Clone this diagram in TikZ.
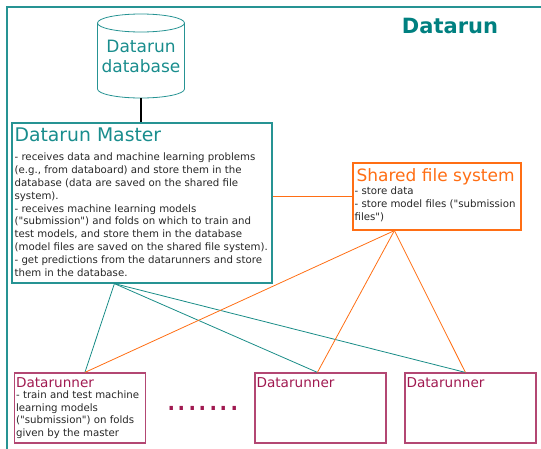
\documentclass[tikz,border=0pt]{standalone}
\usepackage{fontspec}
\setmainfont{DejaVu Sans}[Ligatures=TeXOff]
\definecolor{runteal}{RGB}{0, 128, 128}
\definecolor{linkteal}{RGB}{25, 140, 135}
\definecolor{fsorange}{RGB}{255, 110, 20}
\definecolor{runmaroon}{RGB}{160, 25, 80}
\usetikzlibrary{positioning, shapes.geometric}
\tikzset{
	groupframe/.style={draw=runteal!85, line width=2pt},
	grouptitle/.style={anchor=base, inner sep=0pt, text=runteal, font=\bfseries\fontsize{21}{24}\selectfont},
	dbnode/.style={cylinder, shape border rotate=90, aspect=2.7, draw=runteal!85, line width=0.8pt, minimum width=87pt, minimum height=84pt},
	dblabel/.style={align=center, inner sep=0pt, text=runteal!90, font=\fontsize{17}{20}\selectfont},
	masterbox/.style={rectangle, draw=runteal!85, line width=1.2pt, minimum width=260pt, minimum height=160pt},
	fsbox/.style={rectangle, draw=fsorange, line width=1.2pt, minimum width=168pt, minimum height=67pt},
	runbox/.style={rectangle, draw=runmaroon!80, line width=1.2pt, minimum width=131pt, minimum height=70pt},
	boxtitle/.style={anchor=base west, inner sep=0pt},
	boxtext/.style={anchor=north west, inner sep=0pt, align=left, text=black!85, font=\fontsize{10.2}{12.8}\selectfont},
	tealline/.style={draw=linkteal, line width=0.8pt},
	orangeline/.style={draw=fsorange, line width=0.8pt},
}

\begin{document}
\begin{tikzpicture}[x=1pt, y=-1pt]
	\useasboundingbox (0,0) rectangle (541,448);
	\draw[groupframe] (7,470) |- (560,7);
	\node[grouptitle] (grouplabel) at (450,33) {Datarun};

	\node[dbnode, anchor=shape center] (db) at (141,56) {};
	\node[dblabel] (dbtext) at (db.shape center) {Datarun\\database};
	\node[masterbox] (master) at (142,203) {};
	\node[fsbox] (fs) at (437,196.5) {};
	\node[runbox] (run1) at (80,408) {};
	\node[runbox] (run2) at (320.5,408) {};
	\node[runbox] (run3) at (470.5,408) {};

	% titles and texts of the boxes
	\node[boxtitle, text=runteal!90, font=\fontsize{18.8}{22}\selectfont] (mtitle) at ([xshift=3pt, yshift=-19.5pt]master.north west) {Datarun Master};
	\node[boxtext] (mtext) at ([xshift=3pt, yshift=-30.5pt]master.north west) {- receives data and machine learning problems\\(e.g., from databoard) and store them in the\\database (data are saved on the shared file\\system).\\- receives machine learning models\\("submission") and folds on which to train and\\test models, and store them in the database\\(model files are saved on the shared file system).\\- get predictions from the datarunners and store\\them in the database.};
	\node[boxtitle, text=fsorange, font=\fontsize{17}{20}\selectfont] (fstitle) at ([xshift=4pt, yshift=-19.5pt]fs.north west) {Shared file system};
	\node[boxtext] (fstext) at ([xshift=2pt, yshift=-24.5pt]fs.north west) {- store data\\- store model files ("submission\\files")};
	\foreach \r in {run1, run2, run3}
		\node[boxtitle, text=runmaroon, font=\fontsize{13.6}{16}\selectfont] (\r title) at ([xshift=2pt, yshift=-15pt]\r.north west) {Datarunner};
	\node[boxtext] (run1text) at ([xshift=2pt, yshift=-18pt]run1.north west) {- train and test machine\\learning models\\("submission") on folds\\given by the master};
	\node[anchor=base, inner sep=0pt, text=runmaroon, font=\fontsize{33}{36}\selectfont] (gap) at (203,410) {.......};

	% connectors
	\coordinate (mhub) at ([xshift=103pt]master.south west);
	\coordinate (fshub) at ([xshift=42pt]fs.south west);
	\coordinate (r1top) at ([xshift=71pt]run1.north west);
	\coordinate (r2top) at ([xshift=63pt]run2.north west);
	\coordinate (r3top) at ([xshift=61pt]run3.north west);
	\draw[line width=1.2pt] (db.south) -- (db.south |- master.north);
	\draw[tealline] (mhub) -- (r1top);
	\draw[tealline] (mhub) -- (r2top);
	\draw[tealline] (mhub) -- (r3top);
	\draw[orangeline] (fs.west) -- (fs.west -| master.east);
	\draw[orangeline] (fshub) -- (r1top);
	\draw[orangeline] (fshub) -- (r2top);
	\draw[orangeline] (fshub) -- (r3top);
\end{tikzpicture}
\end{document}
